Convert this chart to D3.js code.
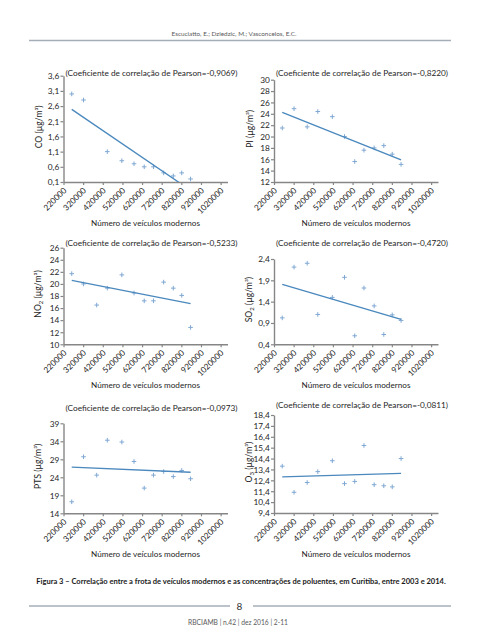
<!DOCTYPE html>
<html><head><meta charset="utf-8">
<script src="https://cdn.jsdelivr.net/npm/d3@7"></script>
<style>
body{margin:0;background:#fff}
svg{display:block}
text{font-family:Lato,"Open Sans",sans-serif;fill:#262626}
</style>
</head><body>
<svg id="chart" width="480" height="640"></svg>
<script>
// ---------- data ----------
const vehicles = [262000, 322000, 389000, 443000, 517000, 579000, 631000, 678000, 730000, 779000, 822000, 867000];
const xTicks = [220000, 320000, 420000, 520000, 620000, 720000, 820000, 920000, 1020000];
const coValues  = [3.0, 2.8, null, 1.1, 0.8, 0.7, 0.6, 0.6, 0.4, 0.3, 0.4, 0.2];
const piValues  = [21.5, 24.9, 21.7, 24.4, 23.5, 20.0, 15.6, 17.6, 18.0, 18.4, 16.9, 15.1];
const no2Values = [21.7, 20.0, 16.5, 19.3, 21.5, 18.5, 17.2, 17.2, 20.3, 19.3, 18.1, 12.8];
const so2Values = [1.02, 2.21, 2.30, 1.10, 1.50, 1.97, 0.60, 1.72, 1.30, 0.63, 1.09, 0.96];
const ptsValues = [17.2, 29.7, 24.6, 34.3, 33.8, 28.4, 21.0, 24.6, 25.6, 24.2, 25.9, 23.6];
const o3Values  = [13.7, 11.3, 12.2, 13.2, 14.2, 12.1, 12.3, 15.6, 12.0, 11.9, 11.8, 14.4];
const coTicks  = [0.1, 0.6, 1.1, 1.6, 2.1, 2.6, 3.1, 3.6];
const piTicks  = [12, 14, 16, 18, 20, 22, 24, 26, 28, 30];
const no2Ticks = [10, 12, 14, 16, 18, 20, 22, 24, 26];
const so2Ticks = [0.4, 0.9, 1.4, 1.9, 2.4];
const ptsTicks = [14, 19, 24, 29, 34, 39];
const o3Ticks  = [9.4, 10.4, 11.4, 12.4, 13.4, 14.4, 15.4, 16.4, 17.4, 18.4];
const pearsonR = ["-0,9069", "-0,8220", "-0,5233", "-0,4720", "-0,0973", "-0,0811"];
const pollutants = ["CO", "PI", "NO|2", "SO|2", "PTS", "O|3"];
const xTitle = "Número de veículos modernos";
const headerText = "Escuciatto, E.; Dziedzic, M.; Vasconcelos, E.C.";
const captionText = "Figura 3 – Correlação entre a frota de veículos modernos e as concentrações de poluentes, em Curitiba, entre 2003 e 2014.";
const pageNumber = "8";
const footerText = "RBCIAMB | n.42 | dez 2016 | 2-11";

// ---------- layout ----------
const colX = [63.5, 274];
const plotW = 164;
const xDomainMax = 1055000;
const panels = [
  {values: coValues,  ticks: coTicks,  dec: true,  col: 0, yTop: 75.7,  yBot: 182,   titleY: 75.5,  yTitleX: 38.5},
  {values: piValues,  ticks: piTicks,  dec: false, col: 1, yTop: 79.7,  yBot: 182,   titleY: 75.5,  yTitleX: 250},
  {values: no2Values, ticks: no2Ticks, dec: false, col: 0, yTop: 247.7, yBot: 344.3, titleY: 246,   yTitleX: 38},
  {values: so2Values, ticks: so2Ticks, dec: true,  col: 1, yTop: 259,   yBot: 344.3, titleY: 246,   yTitleX: 249},
  {values: ptsValues, ticks: ptsTicks, dec: false, col: 0, yTop: 423.3, yBot: 513.3, titleY: 411,   yTitleX: 38},
  {values: o3Values,  ticks: o3Ticks,  dec: true,  col: 1, yTop: 415,   yBot: 513,   titleY: 408,   yTitleX: 248.5}
];

const locale = d3.formatLocale({decimal: ",", thousands: ".", grouping: [3], currency: ["", ""]});
const f1 = locale.format(".1f"), f0 = locale.format("d");

const svg = d3.select("#chart");
const axisColor = "#868686";
const markColor = "#7fa8d3";
const lineColor = "#4a88bd";

function fit(sel, w) {
  const L = sel.node().getComputedTextLength();
  const fs = parseFloat(sel.attr("font-size"));
  sel.attr("font-size", (fs * w / L).toFixed(2));
}

panels.forEach((p, i) => {
  const x0 = colX[p.col];
  const x = d3.scaleLinear().domain([xTicks[0], xDomainMax]).range([x0, x0 + plotW]);
  const y = d3.scaleLinear().domain([p.ticks[0], p.ticks[p.ticks.length - 1]]).range([p.yBot, p.yTop]);
  const g = svg.append("g");

  const ya = g.append("g").attr("transform", `translate(${x0},0)`)
    .call(d3.axisLeft(y).tickValues(p.ticks).tickSize(3).tickSizeOuter(0).tickFormat(p.dec ? f1 : f0));
  const xa = g.append("g").attr("transform", `translate(0,${p.yBot})`)
    .call(d3.axisBottom(x).tickValues(xTicks).tickSize(3).tickSizeOuter(0).tickFormat(f0));
  [ya, xa].forEach(a => {
    a.select(".domain").attr("stroke", axisColor).attr("stroke-width", 1.4);
    a.selectAll(".tick line").attr("stroke", axisColor).attr("stroke-width", 1.2);
    a.selectAll("text").attr("font-family", "Lato").attr("fill", "#262626");
  });
  ya.selectAll("text").attr("font-size", 8.3).attr("x", -4.2).attr("dy", "0.34em");
  xa.selectAll("text").attr("font-size", 8.2)
    .attr("x", null).attr("y", null).attr("dy", "0.35em")
    .attr("transform", "translate(1,7) rotate(-45)")
    .style("text-anchor", "end");

  const pts = vehicles.map((v, k) => ({x: v, y: p.values[k]})).filter(d => d.y != null);
  g.selectAll("path.pt").data(pts).join("path").attr("class", "pt")
    .attr("d", d => `M${x(d.x) - 2.3},${y(d.y)}H${x(d.x) + 2.3}M${x(d.x)},${y(d.y) - 2.3}V${y(d.y) + 2.3}`)
    .attr("stroke", markColor).attr("stroke-width", 1).attr("fill", "none");

  // linear trend (least squares over the plotted points)
  const mx = d3.mean(pts, d => d.x), my = d3.mean(pts, d => d.y);
  const slope = d3.sum(pts, d => (d.x - mx) * (d.y - my)) / d3.sum(pts, d => (d.x - mx) ** 2);
  const xe = d3.extent(pts, d => d.x);
  const trend = xe.map(v => ({x: v, y: my + slope * (v - mx)}));
  const cid = "clip" + i;
  svg.append("clipPath").attr("id", cid).append("rect")
    .attr("x", x0).attr("y", p.yTop - 5).attr("width", plotW).attr("height", p.yBot - p.yTop + 5);
  g.append("path").datum(trend).attr("clip-path", `url(#${cid})`)
    .attr("d", d3.line().x(d => x(d.x)).y(d => y(d.y)))
    .attr("stroke", lineColor).attr("stroke-width", 1.3).attr("fill", "none");

  const t = g.append("text").attr("x", x0 + 2).attr("y", p.titleY).attr("font-size", 9)
    .text(`(Coeficiente de correlação de Pearson=${pearsonR[i]})`);
  fit(t, 172);

  const parts = pollutants[i].split("|");
  const yc = (p.yTop + p.yBot) / 2 - 2;
  const yt = g.append("text").attr("transform", `translate(${p.yTitleX},${yc}) rotate(-90)`)
    .attr("text-anchor", "middle").attr("dy", "0.35em").attr("font-size", 8.6);
  yt.append("tspan").text(parts[0]);
  if (parts[1]) yt.append("tspan").attr("font-size", 6).attr("dy", 2).text(parts[1]);
  yt.append("tspan").attr("dy", parts[1] ? -2 : 0).text(" (µg/m³)");

  const xt = g.append("text").attr("x", x0 + plotW / 2).attr("y", p.yBot + 44).attr("text-anchor", "middle")
    .attr("font-size", 9).text(xTitle);
  fit(xt, 109);
});

const h = svg.append("text").attr("x", 234).attr("y", 36).attr("text-anchor", "middle")
  .attr("font-size", 8).style("fill", "#5a5a5a").text(headerText);
fit(h, 125);
svg.append("line").attr("x1", 29).attr("x2", 451).attr("y1", 40.5).attr("y2", 40.5)
  .attr("stroke", "#a5aeb8").attr("stroke-width", 1.5);

const c = svg.append("text").attr("x", 241).attr("y", 584).attr("text-anchor", "middle")
  .attr("font-size", 8).attr("font-weight", "bold").style("fill", "#1a1a1a").text(captionText);
fit(c, 410);

svg.append("line").attr("x1", 29).attr("x2", 230).attr("y1", 606).attr("y2", 606).attr("stroke", "#a5aeb8").attr("stroke-width", 1.5);
svg.append("line").attr("x1", 253).attr("x2", 451).attr("y1", 606).attr("y2", 606).attr("stroke", "#a5aeb8").attr("stroke-width", 1.5);
svg.append("text").attr("x", 239.5).attr("y", 609.5).attr("text-anchor", "middle").attr("font-size", 10)
  .style("fill", "#333").text(pageNumber);
const ft = svg.append("text").attr("x", 238).attr("y", 624.5).attr("text-anchor", "middle")
  .attr("font-size", 7.5).style("fill", "#5a5a5a").text(footerText);
fit(ft, 100);
</script>
</body></html>
